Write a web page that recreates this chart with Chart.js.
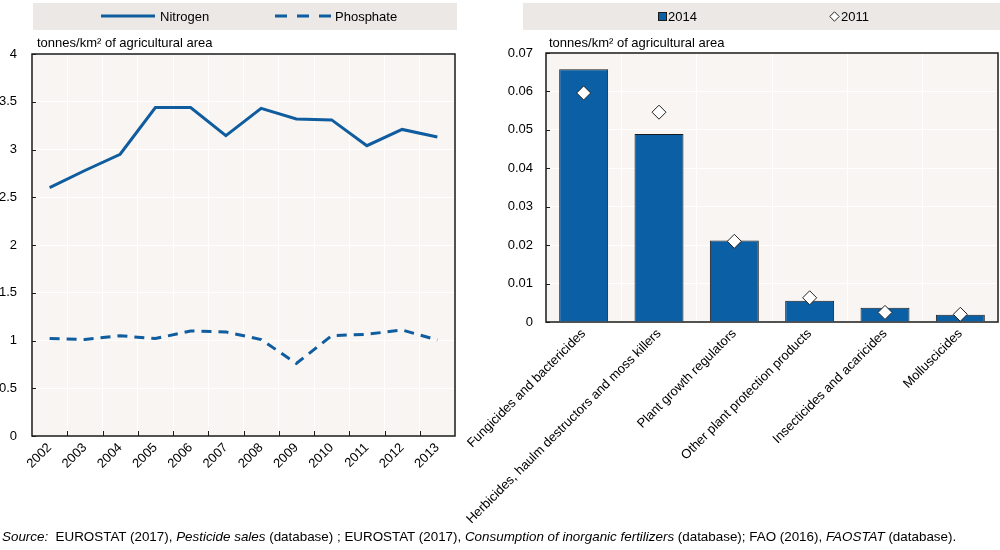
<!DOCTYPE html>
<html>
<head>
<meta charset="utf-8">
<script src="https://cdn.jsdelivr.net/npm/chart.js@4.4.1/dist/chart.umd.min.js"></script>
<style>
  body { margin: 0; background: #fff; font-family: "Liberation Sans", Arial, sans-serif; font-size: 13px; color: #000; }
  #page { position: relative; width: 1000px; height: 550px; overflow: hidden; }
  .holder { position: absolute; top: 0; }
  .legend { position: absolute; top: 3px; height: 27px; background: #ebe8e5; }
  .lg { position: absolute; top: 9px; line-height: 15px; white-space: nowrap; }
  .unit { position: absolute; top: 35px; line-height: 15px; white-space: nowrap; }
  #src { position: absolute; left: 2px; top: 529px; line-height: 15px; white-space: nowrap; font-size: 13.4px; }
</style>
</head>
<body>
<div id="page">
  <div class="legend" style="left:33px;width:424px"></div>
  <div class="legend" style="left:523px;width:477px"></div>

  <div class="holder" style="left:0"><canvas id="fert-chart" width="470" height="500"></canvas></div>
  <div class="holder" style="left:440px"><canvas id="pest-chart" width="560" height="550"></canvas></div>

  <svg class="lg" style="left:101px;top:14px" width="54" height="4"><line x1="0" y1="2" x2="54" y2="2" stroke="#0f5c9e" stroke-width="3"/></svg>
  <span class="lg" style="left:160px">Nitrogen</span>
  <svg class="lg" style="left:275px;top:14px" width="56" height="4"><line x1="0" y1="2" x2="56" y2="2" stroke="#0f5c9e" stroke-width="3" stroke-dasharray="12 10"/></svg>
  <span class="lg" style="left:335px">Phosphate</span>

  <svg class="lg" style="left:658px;top:12px" width="9" height="9"><rect x="0.5" y="0.5" width="8" height="8" fill="#0b5fa5" stroke="#1b1b1b" stroke-width="1"/></svg>
  <span class="lg" style="left:668px">2014</span>
  <svg class="lg" style="left:829px;top:11px" width="11" height="11"><polygon points="5.5,0.8 10.2,5.5 5.5,10.2 0.8,5.5" fill="#fff" stroke="#222" stroke-width="1"/></svg>
  <span class="lg" style="left:841px">2011</span>

  <span class="unit" style="left:37px">tonnes/km² of agricultural area</span>
  <span class="unit" style="left:549px">tonnes/km² of agricultural area</span>

  <div id="src"><i>Source:</i>&nbsp; EUROSTAT (2017), <i>Pesticide sales</i> (database) ; EUROSTAT (2017), <i>Consumption of inorganic fertilizers</i> (database); FAO (2016), <i>FAOSTAT</i> (database).</div>
</div>

<script>
  // left panel: fertiliser use
  const years = ["2002", "2003", "2004", "2005", "2006", "2007", "2008", "2009", "2010", "2011", "2012", "2013"];
  const nitrogen = [2.60, 2.78, 2.95, 3.44, 3.44, 3.145, 3.43, 3.32, 3.31, 3.04, 3.21, 3.13];
  const phosphate = [1.02, 1.01, 1.05, 1.02, 1.10, 1.09, 1.01, 0.76, 1.05, 1.065, 1.11, 1.005];

  // right panel: pesticide sales
  const pesticideTypes = [
    "Fungicides and bactericides",
    "Herbicides, haulm destructors and moss killers",
    "Plant growth regulators",
    "Other plant protection products",
    "Insecticides and acaricides",
    "Molluscicides",
  ];
  const sales2014 = [0.0658, 0.0489, 0.0212, 0.0055, 0.0037, 0.0019];
  const sales2011 = [0.0596, 0.0546, 0.0210, 0.0063, 0.0025, 0.0020];

  const leftAxis = { min: 0, max: 4, step: 0.5 };
  const rightAxis = { min: 0, max: 0.07, step: 0.01 };

  const blue = "#0f5c9e";
  const barBlue = "#0b5fa5";

  Chart.defaults.font.family = '"Liberation Sans", Arial, sans-serif';
  Chart.defaults.font.size = 13;
  Chart.defaults.color = "#000";

  // plot background, dark frame and small inward tick marks
  function framePlugin(xTicks) {
    return {
      id: "frame",
      beforeDraw(chart) {
        const a = chart.chartArea;
        const ctx = chart.ctx;
        ctx.save();
        ctx.fillStyle = "#f8f5f2";
        ctx.fillRect(a.left, a.top, a.right - a.left, a.bottom - a.top);
        ctx.restore();
      },
      beforeDatasetsDraw(chart) {
        const a = chart.chartArea;
        const ctx = chart.ctx;
        const y = chart.scales.y;
        const x = chart.scales.x;
        ctx.save();
        ctx.strokeStyle = "#1a1a1a";
        ctx.lineWidth = 1.5;
        ctx.strokeRect(a.left, a.top, a.right - a.left, a.bottom - a.top);
        ctx.lineWidth = 1;
        ctx.beginPath();
        y.ticks.forEach(function (t, i) {
          const py = Math.round(y.getPixelForTick(i)) + 0.5;
          ctx.moveTo(a.left, py);
          ctx.lineTo(a.left + 4, py);
        });
        if (xTicks) {
          for (let i = 1; i < x.ticks.length; i++) {
            const px = Math.round((x.getPixelForTick(i - 1) + x.getPixelForTick(i)) / 2) + 0.5;
            ctx.moveTo(px, a.bottom);
            ctx.lineTo(px, a.bottom - 5);
          }
        }
        ctx.stroke();
        ctx.restore();
      },
    };
  }

  function xScale(height) {
    return {
      offset: true,
      grid: { color: "#ffffff", offset: true, drawTicks: false },
      border: { display: false },
      ticks: { minRotation: 45, maxRotation: 45, autoSkip: false, padding: 4 },
      afterFit(scale) {
        scale.height = height;
        scale.paddingLeft = 0;
        scale.paddingRight = 0;
      },
    };
  }

  function yScale(axis, width, pad) {
    return {
      min: axis.min,
      max: axis.max,
      grid: { color: "#ffffff", drawTicks: false },
      border: { display: false },
      ticks: {
        stepSize: axis.step,
        padding: pad,
        callback: function (value) {
          return String(+value.toFixed(3));
        },
      },
      afterFit(scale) {
        scale.width = width;
      },
    };
  }

  new Chart(document.getElementById("fert-chart"), {
    type: "line",
    data: {
      labels: years,
      datasets: [
        {
          label: "Nitrogen",
          data: nitrogen,
          borderColor: blue,
          borderWidth: 3,
          pointRadius: 0,
          tension: 0,
        },
        {
          label: "Phosphate",
          data: phosphate,
          borderColor: blue,
          borderWidth: 3,
          borderDash: [10, 7],
          pointRadius: 0,
          tension: 0,
        },
      ],
    },
    options: {
      responsive: false,
      animation: false,
      layout: { autoPadding: false, padding: { top: 54, right: 15, left: 0, bottom: 0 } },
      plugins: { legend: { display: false }, tooltip: { enabled: false } },
      scales: {
        x: xScale(64),
        y: yScale(leftAxis, 32, 15),
      },
    },
    plugins: [framePlugin(true)],
  });

  new Chart(document.getElementById("pest-chart"), {
    type: "bar",
    data: {
      labels: pesticideTypes,
      datasets: [
        {
          type: "line",
          label: "2011",
          data: sales2011,
          showLine: false,
          pointStyle: "rectRot",
          pointRadius: 7,
          pointBackgroundColor: "#ffffff",
          pointBorderColor: "#222222",
          pointBorderWidth: 1,
          order: 0,
        },
        {
          label: "2014",
          data: sales2014,
          backgroundColor: barBlue,
          borderColor: "#1b1b1b",
          borderWidth: 1,
          categoryPercentage: 1,
          barPercentage: 0.65,
          order: 1,
        },
      ],
    },
    options: {
      responsive: false,
      animation: false,
      layout: { autoPadding: false, padding: { top: 53, right: 2, left: 0, bottom: 0 } },
      plugins: { legend: { display: false }, tooltip: { enabled: false } },
      scales: {
        x: xScale(228),
        y: yScale(rightAxis, 106, 13),
      },
    },
    plugins: [framePlugin(false)],
  });
</script>
</body>
</html>
